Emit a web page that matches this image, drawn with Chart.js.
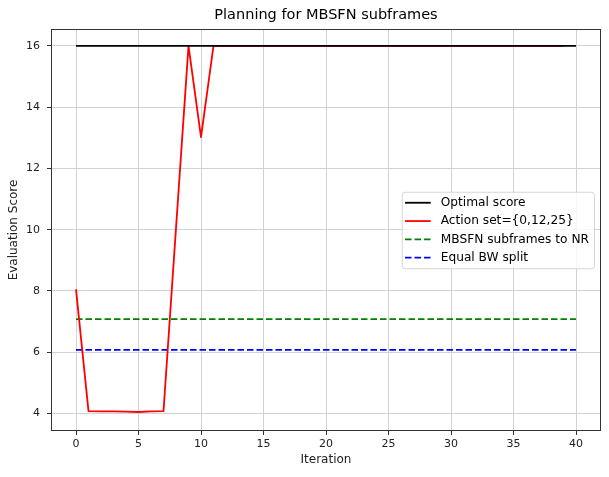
<!DOCTYPE html>
<html>
<head>
<meta charset="utf-8">
<script src="https://cdn.jsdelivr.net/npm/chart.js@4/dist/chart.umd.min.js"></script>
<style>
    html, body { margin: 0; padding: 0; background: #fff; }
    canvas { display: block; }
</style>
</head>
<body>
<canvas id="chart" width="609" height="477"></canvas>
<script>
// values
const actionIters = [0, 1, 2, 3, 4, 5, 6, 7, 8, 9, 10, 11, 12, 13, 14, 15, 16, 17, 18, 19,
    20, 21, 22, 23, 24, 25, 26, 27, 28, 29, 30, 31, 32, 33, 34, 35, 36, 37, 38, 39];
const actionScores = [8.05, 4.08, 4.07, 4.07, 4.06, 4.05, 4.07, 4.08, 10.05, 16, 13.02, 16, 16, 16, 16, 16, 16, 16, 16, 16,
    16, 16, 16, 16, 16, 16, 16, 16, 16, 16, 16, 16, 16, 16, 16, 16, 16, 16, 16, 16];
const levelIters = [0, 40];
const optimalScores = [16, 16];
const mbsfnScores = [7.08, 7.08];
const equalBwScores = [6.08, 6.08];
const xTicks = [0, 5, 10, 15, 20, 25, 30, 35, 40];
const yTicks = [4, 6, 8, 10, 12, 14, 16];

const FONT = '"DejaVu Sans", sans-serif';

function toPoints(xs, ys) {
    return xs.map((x, i) => ({ x: x, y: ys[i] }));
}

function lineSet(label, xs, ys, color, dash) {
    return {
        label: label,
        data: toPoints(xs, ys),
        borderColor: color,
        backgroundColor: color,
        borderWidth: 1.8,
        borderDash: dash || [],
        borderJoinStyle: 'round',
        pointRadius: 0,
        tension: 0,
        fill: false,
    };
}

// title, frame and matplotlib-like legend box
const extras = {
    id: 'extras',
    afterDraw(chart) {
        const ctx = chart.ctx;
        const a = chart.chartArea;
        ctx.save();

        ctx.fillStyle = '#000';
        ctx.font = '14.5px ' + FONT;
        ctx.textAlign = 'center';
        ctx.textBaseline = 'middle';
        ctx.fillText('Planning for MBSFN subframes', (a.left + a.right) / 2, 15.6);

        ctx.strokeStyle = '#333';
        ctx.lineWidth = 1;
        ctx.strokeRect(Math.round(a.left) + 0.5, Math.round(a.top) + 0.5,
            Math.round(a.right - a.left) - 1, Math.round(a.bottom - a.top) - 1);

        const sets = chart.data.datasets;
        ctx.font = '12.2px ' + FONT;
        const textW = Math.max(...sets.map(d => ctx.measureText(d.label).width));
        const rowH = 18.3;
        const w = 39 + textW + 5;
        const h = 11 + rowH * (sets.length - 1) + 10.6;
        const x = a.right - 7 - w;
        const y = (a.top + a.bottom) / 2 - h / 2;

        ctx.beginPath();
        ctx.roundRect(x + 0.5, y + 0.5, w, h, 3);
        ctx.fillStyle = 'rgba(255,255,255,0.8)';
        ctx.fill();
        ctx.strokeStyle = '#d6d6d6';
        ctx.stroke();

        sets.forEach((d, i) => {
            const cy = y + 11 + i * rowH;
            ctx.beginPath();
            ctx.setLineDash(d.borderDash);
            ctx.strokeStyle = d.borderColor;
            ctx.lineWidth = d.borderWidth;
            ctx.moveTo(x + 3.3, cy);
            ctx.lineTo(x + 29, cy);
            ctx.stroke();
            ctx.setLineDash([]);
            ctx.fillStyle = '#000';
            ctx.textAlign = 'left';
            ctx.fillText(d.label, x + 39, cy);
        });
        ctx.restore();
    }
};

const gridOpts = {
    color: '#d2d2d2',
    lineWidth: 1,
    drawTicks: true,
    tickLength: 4,
    tickColor: '#333',
    tickWidth: 1,
};

new Chart(document.getElementById('chart').getContext('2d'), {
    type: 'line',
    data: {
        datasets: [
            lineSet('Optimal score', levelIters, optimalScores, '#000000'),
            lineSet('Action set={0,12,25}', actionIters, actionScores, '#ff0000'),
            lineSet('MBSFN subframes to NR', levelIters, mbsfnScores, '#008000', [6.5, 3]),
            lineSet('Equal BW split', levelIters, equalBwScores, '#0000ff', [6.5, 3]),
        ],
    },
    options: {
        responsive: false,
        animation: false,
        devicePixelRatio: 1,
        layout: { padding: { top: 29, right: 8, left: 0, bottom: 0 } },
        plugins: {
            legend: { display: false },
            tooltip: { enabled: false },
            title: { display: false },
        },
        scales: {
            x: {
                type: 'linear',
                min: -2,
                max: 42,
                afterBuildTicks: s => { s.ticks = xTicks.map(v => ({ value: v })); },
                afterFit: s => { s.height = 46; },
                grid: gridOpts,
                border: { display: false },
                ticks: { font: { family: FONT, size: 11 }, color: '#222', padding: 3, maxRotation: 0, autoSkip: false },
                title: { display: true, text: 'Iteration', color: '#222', font: { family: FONT, size: 12 }, padding: { top: 10, bottom: 10 } },
            },
            y: {
                type: 'linear',
                min: 3.43,
                max: 16.55,
                afterBuildTicks: s => { s.ticks = yTicks.map(v => ({ value: v })); },
                afterFit: s => { s.width = 51; },
                grid: gridOpts,
                border: { display: false },
                ticks: { font: { family: FONT, size: 11 }, color: '#222', padding: 7, autoSkip: false },
                title: { display: true, text: 'Evaluation Score', color: '#222', font: { family: FONT, size: 12 }, padding: { top: 7, bottom: 7 } },
            },
        },
    },
    plugins: [extras],
});
</script>
</body>
</html>
